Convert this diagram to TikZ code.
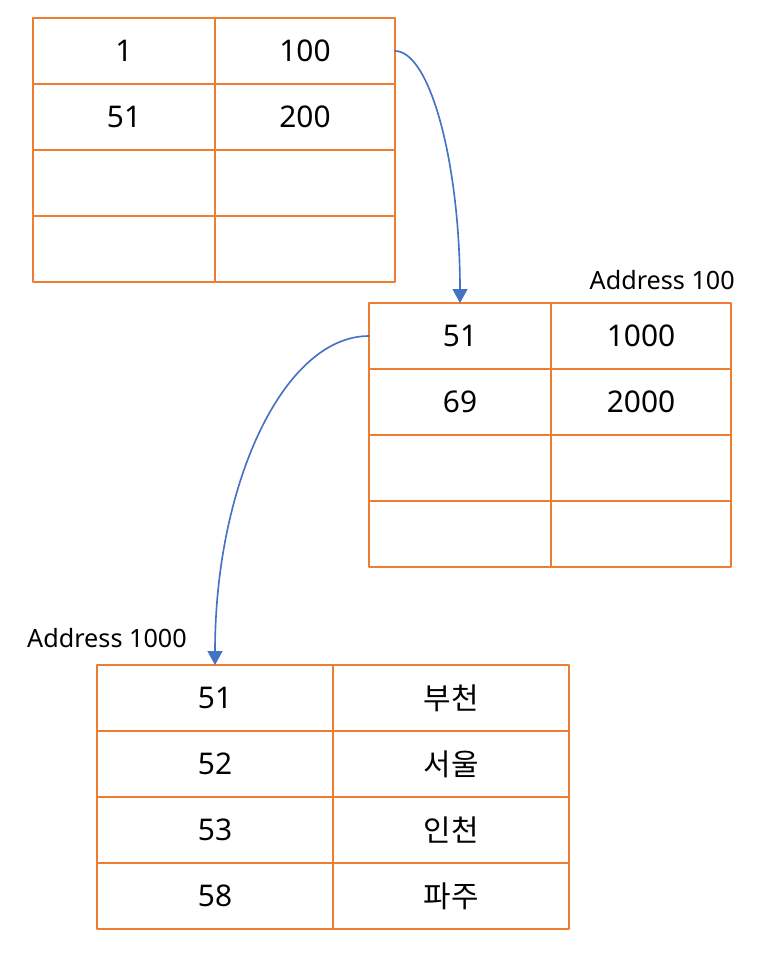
\documentclass[tikz,border=0pt]{standalone}
\usepackage{fontspec}
\setmainfont{Noto Sans}
\newfontfamily\kr{Noto Sans CJK KR}
\usetikzlibrary{arrows.meta}
\definecolor{cellorange}{HTML}{ED7D31}
\definecolor{linkblue}{HTML}{4472C4}

\begin{document}
\begin{tikzpicture}[x=0.03cm, y=-0.03cm, line join=round, line cap=round,
	cell/.style={draw=cellorange, line width=1.5pt, inner sep=0pt, outer sep=0pt,
		minimum height=1.98cm, font=\fontsize{25.5}{30}\selectfont},
	addr/.style={inner sep=0pt, font=\fontsize{21.5}{25}\selectfont},
	link/.style={draw=linkblue, line width=1.4pt, -{Triangle[width=0.45cm, length=0.42cm]}}]
	\useasboundingbox (0,0) rectangle (764,954);
	% root page
	\foreach \r/\a/\b in {1/1/100, 2/51/200, 3//, 4//} {
		\node[cell, minimum width=5.46cm] (ta-\r-1) at (124,{18+66*(\r-0.5)}) {\a};
		\node[cell, minimum width=5.4cm] (ta-\r-2) at (305,{18+66*(\r-0.5)}) {\b};
	}
	% page at address 100
	\foreach \r/\a/\b in {1/51/1000, 2/69/2000, 3//, 4//} {
		\node[cell, minimum width=5.46cm] (tb-\r-1) at (460,{303+66*(\r-0.5)}) {\a};
		\node[cell, minimum width=5.4cm] (tb-\r-2) at (641,{303+66*(\r-0.5)}) {\b};
	}
	\node[addr, anchor=base east] (addr-b) at (735,289) {Address 100};
	% leaf page at address 1000
	\foreach \r/\a/\b in {1/51/{\kr 부천}, 2/52/{\kr 서울}, 3/53/{\kr 인천}, 4/58/{\kr 파주}} {
		\node[cell, minimum width=7.08cm] (tc-\r-1) at (215,{665+66*(\r-0.5)}) {\a};
		\node[cell, minimum width=7.08cm] (tc-\r-2) at (451,{665+66*(\r-0.5)}) {\b};
	}
	\node[addr, anchor=base west] (addr-c) at (27,647) {Address 1000};
	% pointers
	\draw[link] (ta-1-2.east) to[out=0, in=90, out distance=1.05cm, in distance=4.2cm] (tb-1-1.north);
	\draw[link] (tb-1-1.west) to[out=180, in=90, out distance=2.55cm, in distance=5.45cm] (tc-1-1.north);
\end{tikzpicture}
\end{document}
